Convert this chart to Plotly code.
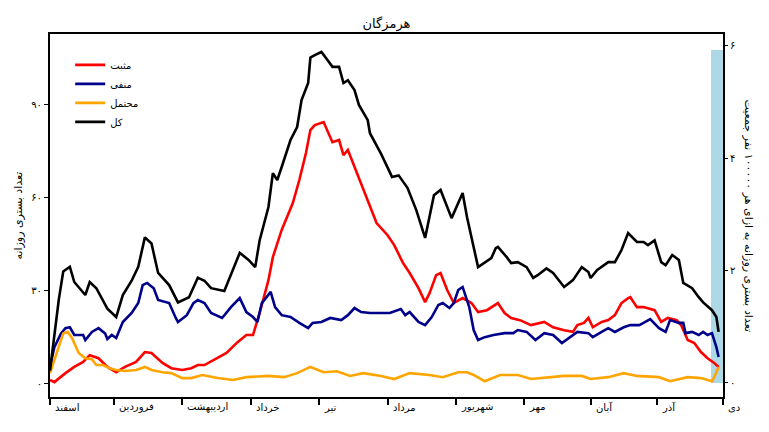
import pandas as pd
import plotly.graph_objects as go

# day offsets from 1 Esfand 1398 (2020-02-20)
start = pd.Timestamp("2020-02-20")

days_pos = [0, 2, 7, 11, 15, 18, 22, 26, 30, 34, 39, 43, 46, 51, 55, 60, 64, 67, 70, 74, 80, 85, 89, 92, 95,
            99, 101, 105, 110, 113, 116, 118, 120, 124, 126, 128, 131, 133, 135, 138, 141, 145, 148, 153, 156,
            160, 163, 167, 170, 172, 175, 177, 180, 183, 187, 191, 194, 198, 203, 206, 209, 213, 218, 224, 228,
            233, 237, 239, 242, 244, 246, 250, 253, 256, 259, 262, 263, 266, 269, 274, 277, 280, 284, 286, 289,
            292, 295, 298, 301, 303]
positive = [1, 0.3, 3.2, 5.2, 6.8, 9, 8, 5.2, 3.5, 5.2, 6.8, 10, 9.7, 6.5, 4.8, 4.2, 4.8, 5.8, 5.8, 7.4, 9.7,
            13.2, 15.5, 15.5, 22.6, 33.2, 40.6, 49.4, 58, 65.5, 74.2, 81.6, 83.2, 84.2, 81, 77.7, 78.4, 73.5,
            75.2, 69.7, 64.5, 56.8, 51.6, 47.7, 44.5, 38.7, 35.5, 30.6, 26.1, 29, 34.8, 35.5, 30, 25.8, 27.4,
            25.8, 22.9, 23.5, 25.8, 22.6, 21, 20.3, 18.7, 19.7, 18, 17, 16.5, 18.7, 19.4, 21, 18, 19.7, 20.3,
            21.9, 25.8, 27.4, 27.7, 24.5, 24.5, 23.5, 19.7, 21, 20.3, 18.7, 13.9, 12.9, 10, 8, 6.5, 5.2]

days_neg = [0, 2, 5, 7, 9, 11, 15, 16, 19, 22, 25, 26, 28, 30, 33, 37, 40, 42, 44, 47, 49, 54, 57, 58, 62, 65,
            67, 70, 73, 78, 82, 86, 89, 92, 94, 96, 100, 102, 105, 109, 113, 117, 119, 123, 127, 132, 135, 138,
            141, 145, 150, 154, 159, 161, 163, 167, 170, 173, 176, 178, 181, 183, 185, 187, 190, 192, 194, 197,
            201, 206, 210, 212, 216, 220, 224, 228, 232, 236, 239, 244, 246, 250, 253, 256, 260, 263, 267, 269,
            272, 276, 279, 281, 285, 287, 288, 291, 294, 296, 298, 300, 302, 303]
negative = [5.2, 11.6, 16, 17.7, 18, 15.5, 15.5, 13.9, 16.5, 17.7, 16, 14.2, 15.5, 14.5, 19.7, 22.6, 25.8, 31.6,
            32.3, 30.6, 26.8, 25.8, 21, 19.7, 21.9, 25.8, 26.8, 25.8, 22.6, 21, 24.5, 27.4, 22.9, 21.3, 19.7,
            25.8, 29.4, 24.5, 21.9, 21.3, 19.4, 17.7, 19.4, 19.7, 21, 20.3, 21.9, 24.2, 22.9, 22.6, 22.6, 22.6,
            23.9, 21.9, 22.9, 19.7, 18.7, 21.3, 25.2, 25.8, 24.2, 25.8, 30, 31, 24.5, 17.1, 13.9, 14.8, 15.5,
            16.1, 16.1, 17.1, 16.5, 13.9, 16.1, 15.5, 12.9, 14.8, 16.5, 16.1, 14.8, 16.5, 17.7, 16.5, 18, 18.7,
            18.7, 19.4, 20.6, 17.7, 16.5, 20.3, 19.4, 19.4, 16.1, 16.5, 15.5, 16.5, 15.5, 16.1, 11.6, 8.4]

days_prob = [0, 3, 6, 8, 10, 13, 16, 19, 21, 24, 27, 30, 34, 39, 43, 46, 51, 55, 60, 64, 69, 76, 83, 89, 99,
             106, 112, 118, 124, 130, 136, 142, 150, 156, 163, 172, 178, 185, 189, 192, 197, 204, 212, 218, 226,
             233, 241, 245, 253, 260, 266, 276, 281, 289, 295, 300, 301, 303]
probable = [3.2, 9.7, 16, 16.5, 14.5, 9.7, 8, 7.7, 5.8, 5.8, 4.8, 4.2, 3.9, 4.2, 5.2, 4.2, 3.5, 3.2, 1.6, 1.6,
            2.6, 1.6, 1, 1.9, 2.3, 1.9, 3.2, 5.2, 3.5, 3.8, 2.3, 3.2, 2.3, 1.3, 3.2, 2.6, 1.9, 3.5, 3.5, 2.6,
            0.6, 2.6, 2.6, 1.3, 1.9, 2.3, 2.3, 1.3, 1.9, 3.2, 2.3, 1.9, 0.6, 1.9, 1.6, 0.6, 1.9, 5.2]

days_tot = [0, 4, 6, 9, 11, 16, 18, 21, 26, 30, 33, 37, 40, 43, 46, 49, 54, 58, 63, 67, 70, 73, 79, 83, 86, 90,
            93, 95, 99, 101, 103, 105, 109, 112, 114, 117, 118, 120, 123, 126, 128, 131, 133, 135, 138, 140,
            144, 145, 150, 155, 158, 162, 166, 170, 174, 177, 182, 187, 189, 194, 197, 200, 202, 203, 207, 209,
            212, 216, 219, 221, 225, 228, 233, 237, 241, 244, 245, 248, 253, 256, 259, 262, 266, 269, 271, 274,
            277, 279, 282, 285, 287, 291, 294, 296, 300, 302, 303]
total = [4, 27, 36, 37.5, 32.6, 28.4, 32.6, 30.6, 24, 21.3, 28.4, 33, 37.5, 47, 45, 35.5, 31.6, 26, 27.7, 34,
         33, 30.6, 29.7, 36.5, 42, 39.7, 37.4, 46, 56.8, 67.7, 65.5, 69.7, 78.4, 82.6, 91.3, 96.8, 105, 105.8,
         106.8, 104, 102, 102, 96.8, 97.7, 94.5, 89.7, 84.8, 80.6, 74, 66.5, 67, 63, 55.8, 46.8, 60.6, 62.3,
         53.2, 61.3, 53.5, 37.4, 39, 40.3, 43.5, 43.9, 40.6, 38.7, 39, 37.4, 33.9, 34.8, 37, 35.5, 31, 33.2,
         37.4, 35.8, 33.9, 36.5, 39, 39, 42.9, 48.4, 45.5, 45.5, 44.5, 46, 39, 38, 41.3, 39.7, 32.3, 30.6, 27.7,
         26, 23.5, 21.3, 16.5]

# light blue bar on the per-100k axis
bar_day = [302.3]
bar_value = [5.93]

month_dates = ["2020-02-20", "2020-03-20", "2020-04-20", "2020-05-21", "2020-06-21", "2020-07-22",
               "2020-08-22", "2020-09-22", "2020-10-22", "2020-11-21", "2020-12-21"]
month_names = ["اسفند", "فروردین", "اردیبهشت", "خرداد", "تیر", "مرداد", "شهریور", "مهر", "آبان", "آذر", "دی"]


def to_dates(days):
    return start + pd.to_timedelta(days, unit="D")


font = "DejaVu Sans"
fig = go.Figure()

# bar lives on 'y' (right side), lines on 'y2' so they draw over it
fig.add_trace(go.Bar(x=to_dates(bar_day), y=bar_value, width=5.4 * 86400000,
                     marker=dict(color="#add8e6", line=dict(width=0)), showlegend=False, yaxis="y"))

series = [("مثبت", days_pos, positive, "#ff0000"),
          ("منفی", days_neg, negative, "#00008b"),
          ("محتمل", days_prob, probable, "#ffa500"),
          ("کل", days_tot, total, "#000000")]
for name, d, vals, col in series:
    fig.add_trace(go.Scatter(x=to_dates(d), y=vals, name=name, mode="lines",
                             line=dict(color=col, width=2.6), yaxis="y2"))

# page body adds ~8px offset, margins account for it
fig.update_layout(
    width=769, height=432,
    margin=dict(l=42, r=54, t=26, b=43),
    paper_bgcolor="white", plot_bgcolor="white",
    font=dict(family=font, size=10, color="black"),
    title=dict(text="هرمزگان", x=(42 + 715) / 2 / 769, xanchor="center", y=0.965, yanchor="middle",
               font=dict(size=13, color="black")),
    legend=dict(x=0.03, y=0.955, xanchor="left", yanchor="top", bgcolor="rgba(0,0,0,0)",
                font=dict(size=10), tracegroupgap=0),
    bargap=0,
    xaxis=dict(type="date", range=[start, pd.Timestamp("2020-12-21")],
               tickvals=month_dates, ticktext=[""] * len(month_dates),
               ticks="outside", ticklen=6, tickwidth=1.5, tickcolor="black",
               showline=True, linecolor="black", linewidth=2, mirror=True,
               showgrid=False, zeroline=False),
    yaxis=dict(side="right", range=[-0.25, 6.21], tickvals=[0, 2, 4, 6],
               ticktext=["۰", "۲", "۴", "۶"], ticks="outside", ticklen=4, tickcolor="black",
               showgrid=False, zeroline=False, showline=False),
    yaxis2=dict(overlaying="y", side="left", range=[-4.5, 112.6], tickvals=[0, 30, 60, 90],
                ticktext=["۰", "۳۰", "۶۰", "۹۰"], ticks="outside", ticklen=4, tickcolor="black",
                showline=True, linecolor="black", linewidth=2, mirror=True,
                showgrid=False, zeroline=False),
)

# month labels sit just to the right of their tick
for dt, name in zip(month_dates, month_names):
    fig.add_annotation(x=dt, xref="x", y=0, yref="paper", yshift=-10, xshift=3,
                       text=name, showarrow=False, xanchor="left", yanchor="middle",
                       font=dict(size=10))

# axis titles
fig.add_annotation(x=0, xref="paper", xshift=-32, y=0.5, yref="paper", text="تعداد بستری روزانه",
                   showarrow=False, textangle=-90, xanchor="center", yanchor="middle", font=dict(size=11))
fig.add_annotation(x=1, xref="paper", xshift=25, y=0.5, yref="paper",
                   text="تعداد بستری روزانه به ازای هر ۱۰۰۰۰۰ نفر جمعیت",
                   showarrow=False, textangle=90, xanchor="center", yanchor="middle", font=dict(size=11))

fig.write_html("out.html")
